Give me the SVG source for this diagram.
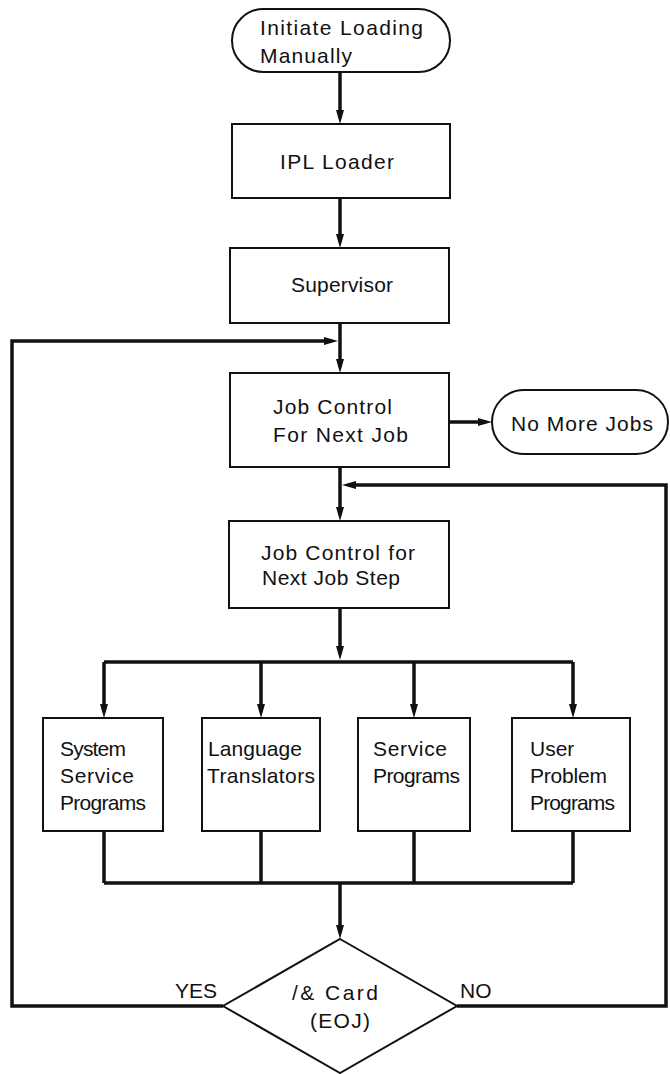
<svg xmlns="http://www.w3.org/2000/svg" width="670" height="1074" viewBox="0 0 670 1074">
<style>
.box{fill:#fff;stroke:#111;stroke-width:2}
.conn{fill:none;stroke:#111;stroke-width:3.5}
.arr{marker-end:url(#ah)}
text{font-family:"Liberation Sans",Arial,sans-serif;font-size:21px;fill:#111}
</style>
<defs>
<marker id="ah" viewBox="0 0 14 8" refX="8" refY="4" markerWidth="14" markerHeight="8" markerUnits="userSpaceOnUse" orient="auto">
<path d="M0,0 L14,4 L0,8 z" fill="#111"/>
</marker>
</defs>
<rect width="670" height="1074" fill="#fff"/>
<g id="connectors">
<path class="conn arr" d="M340,72 V118"/>
<path class="conn arr" d="M340,198 V242"/>
<path class="conn arr" d="M340,323 V367"/>
<path class="conn arr" d="M223,1006 H12 V341 H332"/>
<path class="conn arr" d="M449,422 H486"/>
<path class="conn arr" d="M340,467 V515"/>
<path class="conn arr" d="M457,1006 H666 V485 H348"/>
<path class="conn arr" d="M340,608 V654"/>
<path class="conn" d="M104,662 H573"/>
<path class="conn arr" d="M104,662 V712"/>
<path class="conn arr" d="M261,662 V712"/>
<path class="conn arr" d="M414,662 V712"/>
<path class="conn arr" d="M573,662 V712"/>
<path class="conn" d="M104,831 V883 M261,831 V883 M414,831 V883 M573,831 V883 M104,883 H573"/>
<path class="conn arr" d="M340,883 V933"/>
</g>
<g id="start">
<rect class="box" x="232" y="9" width="218" height="63" rx="31.5"/>
<text x="260" y="35" textLength="163" lengthAdjust="spacing">Initiate Loading</text>
<text x="260" y="63" textLength="92" lengthAdjust="spacing">Manually</text>
</g>
<g id="ipl">
<rect class="box" x="232" y="124" width="218" height="74"/>
<text x="280" y="169" textLength="114" lengthAdjust="spacing">IPL Loader</text>
</g>
<g id="supervisor">
<rect class="box" x="230" y="248" width="219" height="75"/>
<text x="291" y="292" textLength="102" lengthAdjust="spacing">Supervisor</text>
</g>
<g id="jobcontrol">
<rect class="box" x="230" y="373" width="219" height="94"/>
<text x="273" y="414" textLength="119" lengthAdjust="spacing">Job Control</text>
<text x="273" y="442" textLength="135" lengthAdjust="spacing">For Next Job</text>
</g>
<g id="nomorejobs">
<rect class="box" x="492" y="390" width="176" height="64" rx="32"/>
<text x="511" y="431" textLength="142" lengthAdjust="spacing">No More Jobs</text>
</g>
<g id="jobstep">
<rect class="box" x="229" y="521" width="220" height="87"/>
<text x="261" y="560" textLength="154" lengthAdjust="spacing">Job Control for</text>
<text x="262" y="585" textLength="138" lengthAdjust="spacing">Next Job Step</text>
</g>
<g id="systemservice">
<rect class="box" x="43" y="718" width="120" height="113"/>
<text x="60" y="756" textLength="66" lengthAdjust="spacing">System</text>
<text x="60" y="783" textLength="74" lengthAdjust="spacing">Service</text>
<text x="60" y="810" textLength="86" lengthAdjust="spacing">Programs</text>
</g>
<g id="language">
<rect class="box" x="202" y="718" width="118" height="113"/>
<text x="208" y="756" textLength="94" lengthAdjust="spacing">Language</text>
<text x="207" y="783" textLength="108" lengthAdjust="spacing">Translators</text>
</g>
<g id="serviceprograms">
<rect class="box" x="358" y="718" width="112" height="113"/>
<text x="373" y="756" textLength="74" lengthAdjust="spacing">Service</text>
<text x="373" y="783" textLength="87" lengthAdjust="spacing">Programs</text>
</g>
<g id="userprograms">
<rect class="box" x="512" y="718" width="118" height="113"/>
<text x="530" y="756">User</text>
<text x="530" y="783" textLength="77" lengthAdjust="spacing">Problem</text>
<text x="530" y="810" textLength="85" lengthAdjust="spacing">Programs</text>
</g>
<g id="eojdecision">
<polygon class="box" points="340,939 457,1006 340,1073 223,1006"/>
<text x="292" y="1000" textLength="86" lengthAdjust="spacing">/&amp; Card</text>
<text x="310" y="1028" textLength="60" lengthAdjust="spacing">(EOJ)</text>
</g>
<g id="labels">
<text x="175" y="998">YES</text>
<text x="460" y="998">NO</text>
</g>
</svg>
